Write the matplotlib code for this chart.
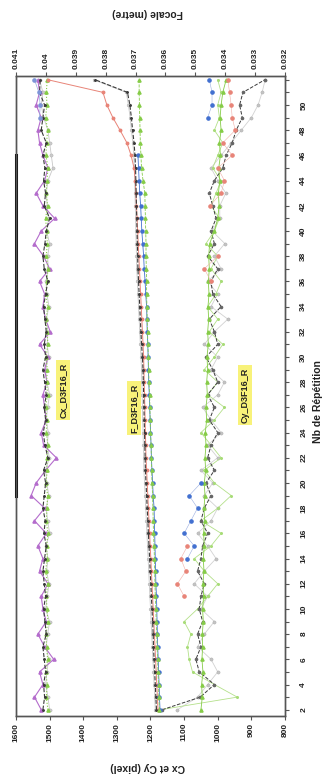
import numpy as np
import matplotlib
matplotlib.use("Agg")
import matplotlib.pyplot as plt

plt.rcParams['font.family'] = ['Liberation Sans', 'DejaVu Sans']

# Repetition numbers (2 .. 52)
reps = np.arange(2, 53)

# ---- Cx (pixel) ----
cx_violet = [1525, 1545, 1520, 1530, 1488, 1515, 1535, 1510, 1520, 1525, 1505, 1530, 1520,
             1535, 1510, 1545, 1515, 1555, 1540, 1512, 1480, 1518, 1525, 1510, 1515, 1520,
             1508, 1515, 1505, 1530, 1498, 1512, 1520, 1515, 1530, 1500, 1518, 1545, 1525,
             1485, 1520, 1540, 1515, 1505, 1520, 1530, 1535, 1525, 1540, 1530, 1535]
cx_noir = [1520, 1515, 1518, 1512, 1516, 1520, 1510, 1514, 1518, 1512, 1516, 1520, 1515,
           1510, 1517, 1513, 1520, 1516, 1512, 1518, 1505, 1514, 1519, 1512, 1516, 1510,
           1515, 1520, 1512, 1516, 1510, 1514, 1518, 1512, 1505, 1516, 1520, 1514, 1510,
           1500, 1516, 1512, 1518, 1514, 1520, 1510, 1525, 1520, 1515, 1530, 1528]
cx_vert = [1505, 1510, 1507, 1512, 1506, 1509, 1511, 1505, 1508, 1510, 1506, 1512, 1507,
           1509, 1505, 1510, 1508, 1506, 1511, 1507, 1509, 1505, 1510, 1508, 1512, 1506,
           1509, 1507, 1511, 1505, 1508, 1510, 1506, 1512, 1508, 1505, 1510, 1507, 1509,
           1512, 1506, 1510, 1508, 1505, 1511, 1509, 1506, 1512, 1508, 1510, 1507]
cx_gris = [1500, 1505, 1512, 1508, 1503, 1510, 1506, 1500, 1512, 1507, 1502, 1509, 1505,
           1511, 1500, 1506, 1510, 1503, 1508, 1512, 1501, 1507, 1504, 1510, 1506, 1500,
           1508, 1512, 1503, 1507, 1505, 1510, 1502, 1508, 1511, 1504, 1506, 1500, 1509,
           1503, 1507, 1510, 1505, 1490, 1495, 1500, 1505, 1518, 1525, 1520, 1530]
cx_bleu = [np.nan] * 47 + [1530, 1528, 1532, 1545]
cx_bord = [np.nan] * 17 + [1600] * 28 + [np.nan] * 6

# ---- Focale (metre) ----
f_rouge = [0.03625, 0.03627, 0.03629, 0.03631, 0.03633, 0.03635, 0.03637, 0.03639, 0.03641,
           0.03643, 0.03645, 0.03647, 0.03649, 0.03651, 0.03653, 0.03655, 0.03657, 0.03659,
           0.03661, 0.03663, 0.03665, 0.03666, 0.03667, 0.03668, 0.03669, 0.03670, 0.03671,
           0.03672, 0.03673, 0.03675, 0.03677, 0.03679, 0.03681, 0.03683, 0.03685, 0.03687,
           0.03689, 0.03691, 0.03693, 0.03695, 0.03697, 0.03699, 0.03701, 0.03705, 0.03715,
           0.03729, 0.03752, 0.03776, 0.03796, 0.03809, 0.03993]
f_noir = [0.03630, 0.03632, 0.03634, 0.03636, 0.03638, 0.03640, 0.03641, 0.03643, 0.03645,
          0.03647, 0.03649, 0.03651, 0.03653, 0.03655, 0.03657, 0.03659, 0.03661, 0.03663,
          0.03665, 0.03667, 0.03668, 0.03669, 0.03670, 0.03671, 0.03672, 0.03673, 0.03674,
          0.03675, 0.03677, 0.03680, 0.03682, 0.03684, 0.03686, 0.03688, 0.03690, 0.03692,
          0.03693, 0.03694, 0.03695, 0.03696, 0.03697, 0.03698, 0.03699, 0.03700, 0.03702,
          0.03705, 0.03710, 0.03714, 0.03719, 0.03727, 0.03835]
f_gris = [0.03634, 0.03636, 0.03638, 0.03640, 0.03642, 0.03644, 0.03646, 0.03648, 0.03650,
          0.03652, 0.03654, 0.03656, 0.03658, 0.03660, 0.03662, 0.03664, 0.03666, 0.03668,
          0.03670, 0.03672, 0.03673, 0.03674, 0.03675, 0.03676, 0.03677, 0.03678, 0.03679,
          0.03680, 0.03682, 0.03684, 0.03686, 0.03688, 0.03690, 0.03692, 0.03694, 0.03696,
          0.03697, 0.03698, 0.03699, 0.03700, 0.03701, 0.03702, 0.03703, 0.03704, 0.03706,
          0.03709, 0.03714, 0.03718, 0.03724, 0.03731, 0.03840]
f_vert = [0.03620, 0.03622, 0.03623, 0.03625, 0.03626, 0.03628, 0.03629, 0.03631, 0.03632,
          0.03634, 0.03635, 0.03636, 0.03637, 0.03638, 0.03640, 0.03641, 0.03642, 0.03643,
          0.03645, 0.03646, 0.03647, 0.03648, 0.03650, 0.03651, 0.03652, 0.03653, 0.03655,
          0.03656, 0.03657, 0.03659, 0.03660, 0.03661, 0.03662, 0.03663, 0.03663, 0.03664,
          0.03665, 0.03665, 0.03666, 0.03667, 0.03668, 0.03669, 0.03675, 0.03680, 0.03682,
          0.03684, 0.03685, 0.03686, 0.03687, 0.03688, 0.03688]
f_bleu = [0.03618, 0.03620, 0.03621, 0.03623, 0.03624, 0.03626, 0.03627, 0.03628, 0.03629,
          0.03630, 0.03632, 0.03633, 0.03634, 0.03635, 0.03636, 0.03637, 0.03638, 0.03641,
          0.03643, 0.03645, 0.03647, 0.03648, 0.03650, 0.03651, 0.03653, 0.03654, 0.03656,
          0.03657, 0.03658, 0.03659, 0.03661, 0.03662, 0.03663, 0.03666, 0.03668, 0.03671,
          0.03673, 0.03676, 0.03679, 0.03681, 0.03683, 0.03686, 0.03688, 0.03690, 0.03692] + \
         [np.nan] * 6

# ---- Cy (pixel) ----
cy_vert = [1050, 1046, 1048, 1044, 1047, 1045, 1046, 1043, 1045, 1042, 1044, 1041, 1043,
           1040, 1042, 1039, 1041, 1038, 1040, 1036, 1038, 1035, 1037, 1033, 1035, 1031,
           1033, 1030, 1032, 1028, 1030, 1027, 1029, 1026, 1028, 1025, 1027, 1024, 1010,
           1000, 996, 998, 994, 997, 992, 995, 990, 993, 990, 985, 975]
cy_vclair = [1170, 942, 1010, 1075, 1085, 1090, 1080, 1100, 1060, 1030, 1000, 1040, 1070,
             1020, 990, 1050, 1000, 960, 1010, 1040, 990, 1020, 1050, 1010, 980, 1030,
             1000, 1040, 1010, 985, 1025, 1000, 1030, 1005, 990, 1020, 1000, 1035, 1010,
             995, 1020, 1005, 990, 1015, 1000, 985, 1010, 995, 1000, 990, 1000]
cy_noir = [1165, 1052, 1010, 1055, 1065, 1050, 1060, 1045, 1055, 1050, 1040, 1060, 1050,
           1045, 1030, 1050, 1040, 1020, 1035, 1010, 1030, 1020, 1000, 1025, 1010, 1030,
           1000, 1015, 1035, 1000, 1010, 1025, 990, 1015, 1020, 1000, 1030, 1010, 1020,
           1005, 1015, 1025, 1010, 985, 975, 957, 945, 927, 935, 925, 860]
cy_gris = [1120, 1060, 1030, 1000, 1020, 1060, 1040, 1010, 1050, 1030, 1070, 1040, 1005,
           1030, 1060, 1020, 1000, 1040, 1015, 1050, 1000, 1030, 990, 1020, 1045, 1000,
           980, 1020, 1000, 1040, 1010, 970, 1020, 1000, 1030, 990, 1010, 979, 1017,
           994, 994, 976, 1000, 1020, 990, 960, 930, 900, 880, 868, 859]
cy_bleu = [np.nan] * 12 + [1090, 1070, 1100, 1080, 1060, 1085, 1050] + [np.nan] * 28 + \
          [1030, 1017, 1017, 1025]
cy_rouge = [np.nan] * 9 + [1100, 1120, 1095, 1110, 1090] + [np.nan] * 20 + \
           [1020, 1040, 1000] + [np.nan] * 3 + [1023, 990, 980, 1000, 957, 985, 948, 957, 960, 965, 970]

fig = plt.figure(figsize=(3.24, 7.81), dpi=100)
ax = fig.add_axes([0.0494, 0.0832, 0.8302, 0.8195])
ax2 = ax.twiny()

c_violet = '#b46ccc'
c_vert = '#86cc48'
c_noir = '#3a3a3a'
c_gris = '#b4b4b4'
c_bleu = '#4270d0'
c_rouge = '#e88478'

ms = 2.3
ax.plot(cx_gris, reps, '-', color='#c8c8c8', lw=0.6, marker='o', ms=ms, mfc='#cccccc', mec='#aaaaaa', mew=0.3)
ax.plot(cx_violet, reps, '-', color=c_violet, lw=0.8, marker='^', ms=ms, mfc=c_violet, mec=c_violet)
ax.plot(cx_vert, reps, ':', color=c_vert, lw=0.8, marker='^', ms=ms, mfc=c_vert, mec=c_vert)
ax.plot(cx_noir, reps, '--', color=c_noir, lw=0.8, marker='o', ms=1.1, mfc=c_noir, mec=c_noir)
ax.plot(cx_bleu, reps, '-', color='#9aaee0', lw=0.5, marker='o', ms=ms, mfc='#7d95d8', mec='#7d95d8')
ax.plot(cx_bord, reps, '-', color='black', lw=2.2, clip_on=False)

ax.plot(cy_gris, reps, '-', color='#d2d2d2', lw=0.6, marker='o', ms=ms, mfc='#c4c4c4', mec='#a8a8a8', mew=0.3)
ax.plot(cy_vclair, reps, '-', color='#b4e08a', lw=0.6, marker='o', ms=1.2, mfc='#a8dc78', mec='#a8dc78')
ax.plot(cy_noir, reps, '--', color=c_noir, lw=0.7, marker='o', ms=1.6, mfc='#666666', mec='#666666')
ax.plot(cy_vert, reps, '-', color=c_vert, lw=0.6, marker='^', ms=ms, mfc=c_vert, mec=c_vert)
ax.plot(cy_bleu, reps, '-', color='#9aaee0', lw=0.4, marker='o', ms=ms, mfc=c_bleu, mec=c_bleu)
ax.plot(cy_rouge, reps, '-', color='#f0b0a8', lw=0.4, marker='o', ms=ms, mfc=c_rouge, mec=c_rouge)

ax2.plot(f_gris, reps, '-', color='#c8c8c8', lw=0.6, marker='o', ms=2.0, mfc='#cccccc', mec='#aaaaaa', mew=0.3)
ax2.plot(f_rouge, reps, '-', color=c_rouge, lw=0.7, marker='o', ms=1.8, mfc=c_rouge, mec=c_rouge)
ax2.plot(f_noir, reps, '--', color=c_noir, lw=0.8, marker='o', ms=1.1, mfc=c_noir, mec=c_noir)
ax2.plot(f_bleu, reps, '-', color=c_bleu, lw=0.6, marker='o', ms=2.2, mfc=c_bleu, mec=c_bleu)
ax2.plot(f_vert, reps, '--', color=c_vert, lw=0.6, marker='^', ms=ms, mfc=c_vert, mec=c_vert)

# axes ranges and ticks
ax.set_xlim(1600, 800)
ax.set_ylim(1.5, 52.3)
ax2.set_xlim(0.041, 0.032)

tick_font = dict(fontsize=6, fontweight='bold', color='#222222')
cx_ticks = [1600, 1500, 1400, 1300, 1200, 1100, 1000, 900, 800]
ax.set_xticks(cx_ticks)
ax.set_xticklabels([str(t) for t in cx_ticks], rotation=90, **tick_font)
f_ticks = [0.041, 0.040, 0.039, 0.038, 0.037, 0.036, 0.035, 0.034, 0.033, 0.032]
ax2.set_xticks(f_ticks)
ax2.set_xticklabels(['0.041', '0.04', '0.039', '0.038', '0.037', '0.036', '0.035',
                     '0.034', '0.033', '0.032'], rotation=90, **tick_font)

rep_labels = list(range(2, 51, 2))
ax.yaxis.tick_right()
ax.set_yticks(rep_labels)
ax.set_yticks(list(range(2, 53)), minor=True)
ax.set_yticklabels([str(r) for r in rep_labels], rotation=90, va='center', **tick_font)
ax.tick_params(axis='y', which='both', length=3, width=0.8, color='#555555', pad=8)
ax.tick_params(axis='x', length=3, width=0.8, color='#555555', pad=2)
ax2.tick_params(axis='x', length=3, width=0.8, color='#555555', pad=2)

for a in (ax, ax2):
    for s in a.spines.values():
        s.set_color('#555555')
        s.set_linewidth(1.0)

# axis titles
fig.text(148 / 324, 1 - 767 / 781, 'Cx et Cy (pixel)', rotation=180, ha='center', va='center',
         fontsize=7.5, fontweight='bold', color='#222222')
fig.text(148 / 324, 1 - 13 / 781, 'Focale (metre)', rotation=180, ha='center', va='center',
         fontsize=7.5, fontweight='bold', color='#222222')
fig.text(318 / 324, 1 - 402 / 781, 'Nb de Répétition', rotation=90, ha='center', va='center',
         fontsize=7.5, fontweight='bold', color='#222222')

# series labels
box = dict(boxstyle='square,pad=0.3', fc='#f8f27a', ec='none')
fig.text(63 / 324, 1 - 390 / 781, 'Cx_D3F16_R', rotation=90, ha='center', va='center',
         fontsize=6.5, fontweight='bold', color='#222222', bbox=box)
fig.text(134 / 324, 1 - 408 / 781, 'F_D3F16_R', rotation=90, ha='center', va='center',
         fontsize=6.5, fontweight='bold', color='#222222', bbox=box)
fig.text(245 / 324, 1 - 395 / 781, 'Cy_D3F16_R', rotation=90, ha='center', va='center',
         fontsize=6.5, fontweight='bold', color='#222222', bbox=box)

fig.savefig('out.png', dpi=100)
